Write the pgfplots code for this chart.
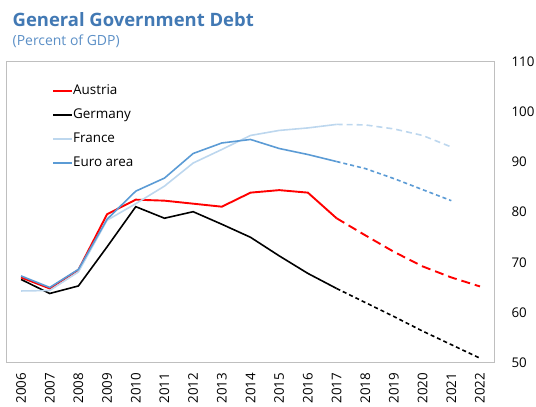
\documentclass[border=0pt]{standalone}
\usepackage{pgfplots}
\pgfplotsset{compat=1.18}
\usepackage{fontspec}
\setmainfont{Open Sans}
\definecolor{titleblue}{HTML}{4279B4}
\definecolor{subblue}{HTML}{5B8FC6}
\definecolor{frlight}{HTML}{BDD7EE}
\definecolor{euroblue}{HTML}{5B9BD5}
\definecolor{boxgray}{HTML}{BFBFBF}
\begin{document}
\begin{tikzpicture}[x=1bp,y=1bp]
\node[anchor=base west, inner sep=0, font=\fontsize{18.5}{22}\selectfont\bfseries, text=titleblue] at (12.5,379.5) {General Government Debt};
\node[anchor=base west, inner sep=0, font=\fontsize{14}{17}\selectfont, text=subblue] at (12.5,360.5) {(Percent of GDP)};
\begin{axis}[
  at={(6.7bp,43.3bp)}, anchor=south west,
  scale only axis, width=487.6bp, height=301bp,
  xmin=-0.5, xmax=16.5, ymin=50, ymax=110,
  xtick={0,...,16},
  xticklabels={2006,2007,2008,2009,2010,2011,2012,2013,2014,2015,2016,2017,2018,2019,2020,2021,2022},
  x tick label style={rotate=90, anchor=east, font=\fontsize{13.4}{16}\selectfont, inner sep=0bp},
  xticklabel shift=10bp,
  ytick={50,60,...,110},
  yticklabel pos=right,
  y tick label style={font=\fontsize{13.4}{16}\selectfont, anchor=west, inner sep=0bp},
  yticklabel shift=17bp,
  /pgf/number format/assume math mode=true,
  major tick length=0pt,
  axis line style={boxgray, line width=0.8bp},
  legend cell align=left,
  legend style={at={(0.093,0.925)}, anchor=north west, draw=none, fill=none,
    font=\fontsize{13.5}{16}\selectfont, row sep=11bp, column sep=0pt, inner sep=0pt,
    nodes={inner sep=0bp, text height=10bp, text depth=3bp}},
  legend image code/.code={\draw[#1] (0bp,0bp) -- (19bp,0bp);},
]
% Austria
\addplot[red, line width=1.9bp] coordinates {(0,67.0)(1,64.8)(2,68.5)(3,79.6)(4,82.5)(5,82.3)(6,81.7)(7,81.1)(8,83.9)(9,84.4)(10,83.9)(11,78.8)};
\addlegendentry{Austria}
% Germany
\addplot[black, line width=1.6bp] coordinates {(0,66.6)(1,63.8)(2,65.3)(3,73.1)(4,81.1)(5,78.8)(6,80.1)(7,77.6)(8,75.0)(9,71.3)(10,67.8)(11,64.8)};
\addlegendentry{Germany}
% France
\addplot[frlight, line width=1.6bp] coordinates {(0,64.3)(1,64.4)(2,68.1)(3,78.4)(4,81.7)(5,85.2)(6,89.8)(7,92.5)(8,95.3)(9,96.3)(10,96.8)(11,97.5)};
\addlegendentry{France}
% Euro area
\addplot[euroblue, line width=1.6bp] coordinates {(0,67.3)(1,65.0)(2,68.6)(3,78.6)(4,84.2)(5,86.8)(6,91.7)(7,93.8)(8,94.5)(9,92.7)(10,91.5)(11,90.1)};
\addlegendentry{Euro area}
% projections
\addplot[red, line width=1.9bp, dash pattern=on 9bp off 5bp, forget plot] coordinates {(11,78.8)(12,75.4)(13,72.1)(14,69.2)(15,67.0)(16,65.2)};
\addplot[black, line width=1.6bp, dash pattern=on 4bp off 3bp, forget plot] coordinates {(11,64.8)(12,62.0)(13,59.2)(14,56.3)(15,53.6)(16,50.9)};
\addplot[frlight, line width=1.6bp, dash pattern=on 6bp off 4bp, forget plot] coordinates {(11,97.5)(12,97.4)(13,96.6)(14,95.3)(15,93.0)};
\addplot[euroblue, line width=1.6bp, dash pattern=on 4bp off 3bp, forget plot] coordinates {(11,90.1)(12,88.7)(13,86.7)(14,84.5)(15,82.3)};
\end{axis}
\pgfresetboundingbox
\path[use as bounding box] (0,0) rectangle (536,406);
\end{tikzpicture}
\end{document}
